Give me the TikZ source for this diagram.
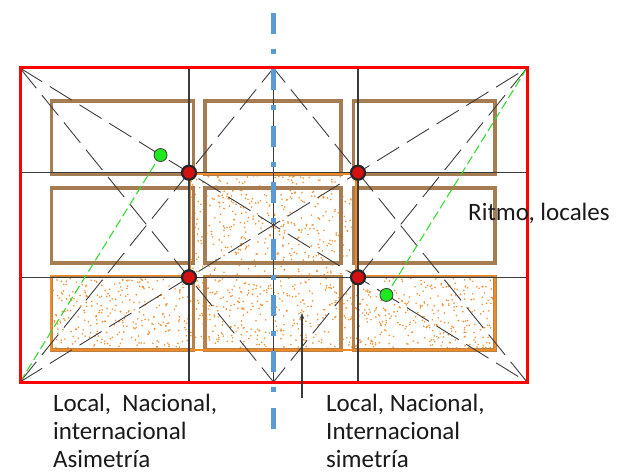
\documentclass[tikz,border=0pt]{standalone}
\usepackage{fontspec}
\setmainfont{Carlito}
\usetikzlibrary{calc,arrows.meta}
\definecolor{brownbox}{HTML}{A67C52}
\definecolor{orangebox}{HTML}{B8804A}
\definecolor{stip}{HTML}{F39234}
\definecolor{stipline}{HTML}{F08A24}
\definecolor{gridc}{HTML}{3C3C3C}
\definecolor{axisblue}{HTML}{5B9BD5}
\definecolor{greenpt}{HTML}{1EE81E}
\definecolor{greenln}{HTML}{33DD33}
\definecolor{reddot}{HTML}{D41010}
\definecolor{txt}{HTML}{1A1A1A}
\begin{document}
\begin{tikzpicture}[x=1pt,y=-1pt,
  gridline/.style={draw=gridc,line width=1.1pt},
  diagline/.style={draw=gridc,line width=0.9pt,dash pattern=on 26pt off 9pt},
  greenline/.style={draw=greenln,line width=1.1pt,dash pattern=on 9pt off 4pt},
  boxb/.style={draw=brownbox,line width=3.4pt},
  boxo/.style={draw=orangebox,line width=3.4pt},
  stipdot/.style={fill=stip},
  reddotst/.style={circle,fill=reddot,draw=black!85,line width=2.2pt,minimum size=14pt,inner sep=0pt},
  greendotst/.style={circle,fill=greenpt,draw=gridc,line width=0.8pt,minimum size=13pt,inner sep=0pt},
  lbl/.style={anchor=base west,inner sep=0pt,text=txt,font=\fontsize{25}{29}\selectfont}
]
\useasboundingbox (0,0) rectangle (617,473);
% frame coordinates
\coordinate (TL) at (20,68);
\coordinate (TR) at (527,68);
\coordinate (BL) at (20,382);
\coordinate (BR) at (527,382);
\coordinate (TC) at (273.5,68);
\coordinate (BC) at (273.5,382);
\coordinate (L1) at (20,172.7);
\coordinate (R1) at (527,172.7);
\coordinate (L2) at (20,277.3);
\coordinate (R2) at (527,277.3);
\coordinate (T1) at (189,68);
\coordinate (B1) at (189,382);
\coordinate (T2) at (358,68);
\coordinate (B2) at (358,382);
\coordinate (AxTop) at (273.5,13);
\coordinate (AxBot) at (273.5,429);
% stipple
\pgfmathsetseed{11}
\foreach \i in {1,...,430}{
  \pgfmathsetmacro\px{191+164*rnd}
  \pgfmathsetmacro\py{175+102*rnd}
  \fill[stipdot] (\px,\py) circle (0.9pt);
}
\foreach \i in {1,...,950}{
  \pgfmathsetmacro\px{52+442*rnd}
  \pgfmathsetmacro\py{277+72*rnd}
  \fill[stipdot] (\px,\py) circle (0.9pt);
}
% boxes
\draw[boxb] (51.5,101) rectangle (193.5,174);
\draw[boxb] (205,101) rectangle (341,174);
\draw[boxb] (353.3,101) rectangle (495,174);
\draw[boxb] (51.5,188) rectangle (193.5,263);
\draw[boxb] (205,188) rectangle (341,263);
\draw[boxb] (353.3,188) rectangle (495,263);
\draw[boxo] (51.5,276.5) rectangle (193.5,350);
\draw[boxo] (205,276.5) rectangle (341,350);
\draw[boxo] (353.3,276.5) rectangle (495,350);
% stipple outline
\draw[stipline,line width=1.3pt] (190.5,174) -- (356,174) -- (356,275.5) -- (495,275.5)
  -- (495,350) -- (51,350) -- (51,275.5) -- (190.5,275.5) -- cycle;
% grid
\draw[gridline] (L1) -- (R1);
\draw[gridline] (L2) -- (R2);
\draw[gridline] (T1) -- (B1);
\draw[gridline] (T2) -- (B2);
\draw[gridline] (TC) -- (BC);
% dashed construction lines
\draw[diagline] (TL) -- (BR);
\draw[diagline] (BL) -- (TR);
\draw[diagline] (TL) -- (BC);
\draw[diagline] (BL) -- (TC);
\draw[diagline] (TR) -- (BC);
\draw[diagline] (BR) -- (TC);
% green perpendiculars
\coordinate (G1) at ($(TL)!(BL)!(BR)$);
\coordinate (G2) at ($(TL)!(TR)!(BR)$);
\draw[greenline] (BL) -- (G1);
\draw[greenline] (TR) -- (G2);
% axis
\draw[axisblue,line width=4.8pt,dash pattern=on 21pt off 15pt on 5pt off 15.4pt] (AxTop) -- (AxBot);
% frame
\draw[red,line width=3pt] (TL) rectangle (BR);
% dots
\node[reddotst] (p11) at (189,172.7) {};
\node[reddotst] (p12) at (358,172.7) {};
\node[reddotst] (p21) at (189,277.3) {};
\node[reddotst] (p22) at (358,277.3) {};
\node[greendotst] (g1) at (G1) {};
\node[greendotst] (g2) at (G2) {};
% arrow
\coordinate (ArrTail) at (302,398);
\coordinate (ArrHead) at (302,313);
\draw[gridc,line width=1.1pt,-{Stealth[length=6pt,width=4.5pt]}] (ArrTail) -- (ArrHead);
% labels
\node[lbl] (ritmo) at (468,220) {Ritmo, locales};
\node[lbl] (la1) at (53,411) {Local,\ \ Nacional,};
\node[lbl] (la2) at (53,439.5) {internacional};
\node[lbl] (la3) at (53,467.5) {Asimetría};
\node[lbl] (lb1) at (326,411) {Local, Nacional,};
\node[lbl] (lb2) at (326,439.5) {Internacional};
\node[lbl] (lb3) at (326,467.5) {simetría};
\end{tikzpicture}
\end{document}
